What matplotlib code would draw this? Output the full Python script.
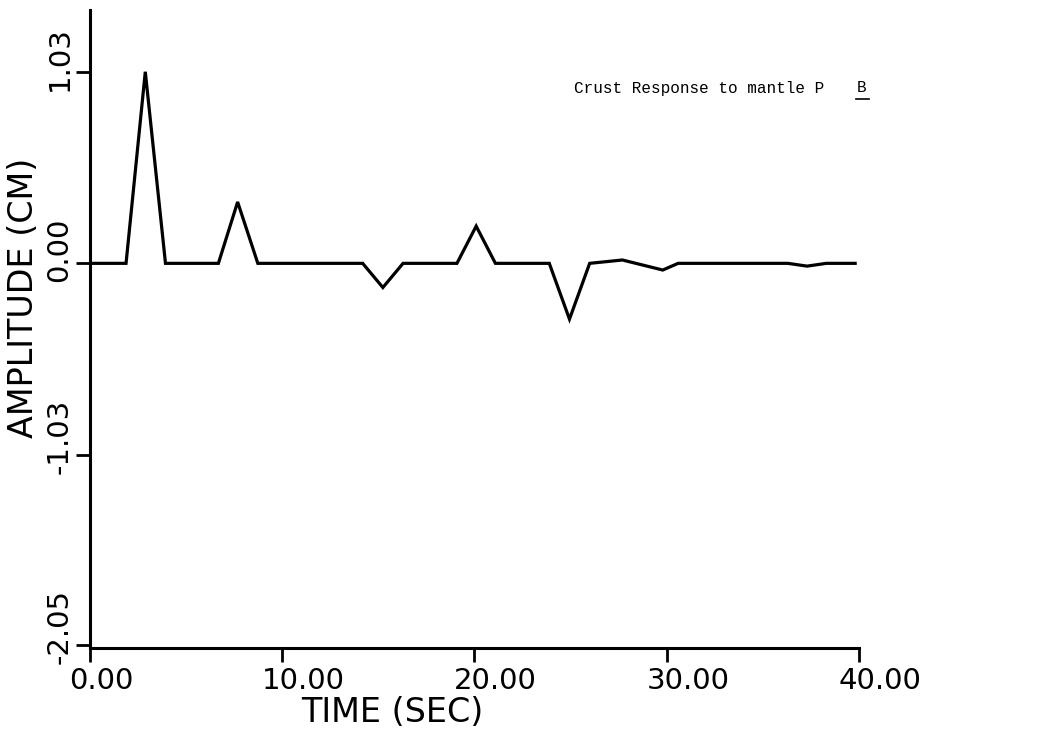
import matplotlib
matplotlib.use("Agg")
import matplotlib.pyplot as plt
from matplotlib.lines import Line2D

# Crust response trace (time in s, amplitude in cm)
time_s = [0.0, 1.9, 2.9, 3.95, 6.7, 7.7, 8.75, 14.2, 15.25, 16.3,
          19.1, 20.1, 21.1, 23.9, 24.95, 26.0, 27.7, 29.8, 30.6,
          36.3, 37.3, 38.3, 39.8]
amplitude = [0.0, 0.0, 1.03, 0.0, 0.0, 0.33, 0.0, 0.0, -0.13, 0.0,
             0.0, 0.20, 0.0, 0.0, -0.30, 0.0, 0.018, -0.036, 0.0,
             0.0, -0.015, 0.0, 0.0]

x_ticks = [0, 10, 20, 30, 40]
x_tick_labels = ["0.00", "10.00", "20.00", "30.00", "40.00"]
y_ticks = [1.03, 0.0, -1.03, -2.05]
y_tick_labels = ["1.03", "0.00", "-1.03", "-2.05"]

W, H = 1063, 736
fig = plt.figure(figsize=(W / 100, H / 100), dpi=100)
ax = fig.add_axes([89.5 / W, 1 - 648 / H, (859 - 89.5) / W, (648 - 10) / H])

ax.plot(time_s, amplitude, color="black", lw=2.3, solid_joinstyle="miter")

ax.set_xlim(0, 40)
ax.set_ylim(-2.068, 1.362)

# Plotter style axes
for side in ("top", "right"):
    ax.spines[side].set_visible(False)
for side in ("left", "bottom"):
    ax.spines[side].set_linewidth(2.2)
ax.spines["left"].set_bounds(-2.068, 1.362)

ax.set_xticks(x_ticks)
ax.set_yticks(y_ticks)
ax.set_xticklabels([])
ax.set_yticklabels([])
ax.tick_params(axis="both", direction="out", width=2.0, length=10, color="black")

tick_font = dict(family="DejaVu Sans", size=21, color="black")

# X tick labels: left-aligned, starting just left of the tick
for v, lab in zip(x_ticks, x_tick_labels):
    ax.annotate(lab, xy=(v, 0), xycoords=ax.get_xaxis_transform(),
                xytext=(-20, -19), textcoords="offset pixels",
                ha="left", va="top", **tick_font)

# Y tick labels: rotated, reading upward from just below the tick
for v, lab in zip(y_ticks, y_tick_labels):
    ax.annotate(lab, xy=(0, v), xycoords=ax.get_yaxis_transform(),
                xytext=(-30, -19), textcoords="offset pixels",
                ha="center", va="bottom", rotation=90, **tick_font)

fig.text(392 / W, 1 - 713 / H, "TIME (SEC)", ha="center", va="center",
         family="DejaVu Sans", size=24)
fig.text(24 / W, 1 - 298 / H, "AMPLITUDE (CM)", ha="center", va="center",
         rotation=90, family="DejaVu Sans", size=24)

# Typed annotation with underlined panel letter
fig.text(574 / W, 1 - 88 / H, "Crust Response to mantle P", ha="left",
         va="center", family="Liberation Mono", size=11.5)
fig.text(857 / W, 1 - 88 / H, "B", ha="left", va="center",
         family="Liberation Mono", size=11.5)
fig.add_artist(Line2D([856 / W, 869 / W], [1 - 99 / H, 1 - 99 / H],
                      transform=fig.transFigure, color="black", lw=1.2))

fig.savefig("out.png", dpi=100)
